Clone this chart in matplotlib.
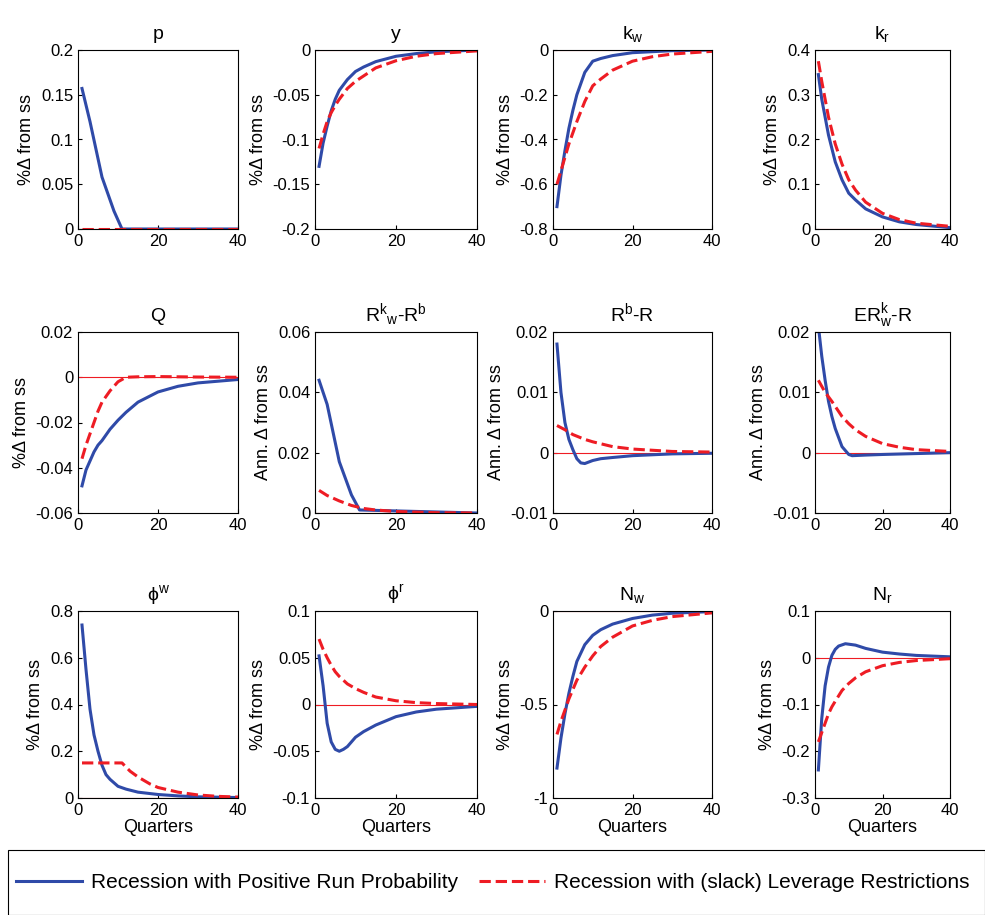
import matplotlib
matplotlib.use("Agg")
import matplotlib.pyplot as plt
from matplotlib.patches import Rectangle

plt.rcParams["font.family"] = ["Liberation Sans", "DejaVu Sans"]
plt.rcParams["mathtext.fontset"] = "custom"
plt.rcParams["mathtext.rm"] = "Liberation Sans"
plt.rcParams["mathtext.it"] = "Liberation Sans"

BLUE = "#2f4aa8"
RED = "#ee1c24"

titles = ["p", "y", r"$\mathregular{k_w}$", r"$\mathregular{k_r}$",
          "Q", r"$\mathregular{R^{k}{}_{w}\text{-}R^{b}}$", r"$\mathregular{R^{b}\text{-}R}$",
          r"$\mathregular{ER^{k}_{w}\text{-}R}$",
          r"$\mathregular{\phi^{w}}$", r"$\mathregular{\phi^{r}}$", r"$\mathregular{N_w}$", r"$\mathregular{N_r}$"]
ylabels = ["%Δ from ss"] * 5 + ["Ann. Δ from ss"] * 3 + ["%Δ from ss"] * 4
ylims = [(0, 0.2), (-0.2, 0), (-0.8, 0), (0, 0.4),
         (-0.06, 0.02), (0, 0.06), (-0.01, 0.02), (-0.01, 0.02),
         (0, 0.8), (-0.1, 0.1), (-1, 0), (-0.3, 0.1)]
yticks = [[0, 0.05, 0.1, 0.15, 0.2], [-0.2, -0.15, -0.1, -0.05, 0], [-0.8, -0.6, -0.4, -0.2, 0], [0, 0.1, 0.2, 0.3, 0.4],
          [-0.06, -0.04, -0.02, 0, 0.02], [0, 0.02, 0.04, 0.06], [-0.01, 0, 0.01, 0.02], [-0.01, 0, 0.01, 0.02],
          [0, 0.2, 0.4, 0.6, 0.8], [-0.1, -0.05, 0, 0.05, 0.1], [-1, -0.5, 0], [-0.3, -0.2, -0.1, 0, 0.1]]

# (quarters, values)
blue = [
    ([1, 3, 6, 9, 11, 40], [0.157, 0.12, 0.058, 0.02, 0.0, 0]),
    ([1, 2, 3, 4, 5, 6, 8, 10, 12, 15, 20, 25, 30, 40], [-0.13, -0.104, -0.085, -0.068, -0.055, -0.045, -0.033, -0.024, -0.019, -0.013, -0.007, -0.004, -0.002, 0]),
    ([1, 2, 3, 4, 5, 6, 8, 10, 12, 15, 20, 30, 40], [-0.7, -0.56, -0.45, -0.35, -0.27, -0.2, -0.1, -0.05, -0.038, -0.025, -0.012, -0.003, 0]),
    ([1, 2, 3, 4, 5, 6, 8, 10, 12, 15, 20, 25, 30, 40], [0.345, 0.29, 0.25, 0.21, 0.18, 0.15, 0.11, 0.08, 0.065, 0.045, 0.027, 0.016, 0.01, 0.003]),
    ([1, 2, 3, 4, 5, 6, 8, 10, 12, 15, 20, 25, 30, 40], [-0.048, -0.041, -0.037, -0.033, -0.03, -0.028, -0.023, -0.019, -0.0155, -0.011, -0.0065, -0.004, -0.0025, -0.001]),
    ([1, 3, 6, 9, 11, 40], [0.044, 0.036, 0.017, 0.006, 0.001, 0]),
    ([1, 2, 3, 4, 5, 6, 7, 8, 10, 12, 15, 20, 30, 40], [0.018, 0.01, 0.005, 0.0022, 0.0005, -0.001, -0.0017, -0.0018, -0.0013, -0.001, -0.0008, -0.0005, -0.0002, -0.0001]),
    ([1, 2, 3, 4, 5, 6, 8, 10, 11, 15, 20, 40], [0.021, 0.016, 0.012, 0.0085, 0.006, 0.004, 0.001, -0.0003, -0.0005, -0.0004, -0.0003, 0]),
    ([1, 2, 3, 4, 5, 6, 7, 8, 10, 12, 15, 20, 25, 30, 40], [0.74, 0.55, 0.38, 0.27, 0.2, 0.14, 0.1, 0.08, 0.05, 0.038, 0.025, 0.015, 0.009, 0.005, 0.002]),
    ([1, 2, 3, 4, 5, 6, 7, 8, 10, 12, 15, 20, 25, 30, 40], [0.052, 0.02, -0.02, -0.04, -0.048, -0.05, -0.048, -0.045, -0.035, -0.029, -0.022, -0.013, -0.008, -0.005, -0.002]),
    ([1, 2, 3, 4, 5, 6, 8, 10, 12, 15, 20, 25, 30, 40], [-0.84, -0.68, -0.55, -0.44, -0.35, -0.27, -0.18, -0.13, -0.1, -0.07, -0.04, -0.022, -0.012, -0.003]),
    ([1, 2, 3, 4, 5, 6, 7, 9, 12, 15, 20, 25, 30, 40], [-0.24, -0.13, -0.06, -0.02, 0.005, 0.018, 0.025, 0.03, 0.027, 0.02, 0.012, 0.008, 0.005, 0.002]),
]
red = [
    ([1, 40], [0, 0]),
    ([1, 2, 3, 4, 5, 6, 8, 10, 12, 15, 20, 25, 30, 40], [-0.11, -0.094, -0.08, -0.07, -0.062, -0.055, -0.043, -0.035, -0.029, -0.02, -0.012, -0.007, -0.004, -0.001]),
    ([1, 2, 3, 4, 5, 6, 8, 10, 12, 15, 20, 25, 30, 40], [-0.6, -0.54, -0.48, -0.42, -0.37, -0.32, -0.23, -0.16, -0.13, -0.09, -0.05, -0.03, -0.018, -0.006]),
    ([1, 2, 3, 4, 5, 6, 8, 10, 12, 15, 20, 25, 30, 40], [0.375, 0.33, 0.29, 0.25, 0.22, 0.19, 0.145, 0.11, 0.087, 0.06, 0.035, 0.021, 0.013, 0.006]),
    ([1, 2, 3, 4, 5, 6, 8, 10, 12, 15, 20, 30, 40], [-0.036, -0.03, -0.025, -0.02, -0.015, -0.011, -0.006, -0.002, 0, 0.0002, 0.0003, 0.0001, 0]),
    ([1, 3, 6, 9, 12, 15, 20, 30, 40], [0.0075, 0.0058, 0.004, 0.0025, 0.0015, 0.001, 0.0005, 0.0001, 0]),
    ([1, 3, 5, 8, 10, 15, 20, 30, 40], [0.0045, 0.0038, 0.003, 0.0022, 0.0018, 0.001, 0.0006, 0.0002, 0.0001]),
    ([1, 3, 5, 8, 10, 12, 15, 20, 25, 30, 40], [0.012, 0.01, 0.0085, 0.006, 0.0048, 0.0038, 0.0027, 0.0015, 0.0009, 0.0005, 0.0002]),
    ([1, 11, 13, 15, 18, 20, 25, 30, 35, 40], [0.15, 0.15, 0.115, 0.09, 0.06, 0.045, 0.025, 0.013, 0.007, 0.004]),
    ([1, 2, 3, 4, 5, 6, 8, 10, 12, 15, 20, 25, 30, 40], [0.07, 0.059, 0.05, 0.042, 0.035, 0.03, 0.022, 0.017, 0.013, 0.008, 0.004, 0.002, 0.001, 0]),
    ([1, 2, 3, 4, 5, 6, 8, 10, 12, 15, 20, 25, 30, 40], [-0.66, -0.59, -0.53, -0.47, -0.42, -0.37, -0.3, -0.24, -0.19, -0.14, -0.08, -0.05, -0.03, -0.01]),
    ([1, 2, 3, 4, 5, 6, 8, 10, 12, 15, 20, 25, 30, 40], [-0.18, -0.16, -0.14, -0.12, -0.105, -0.093, -0.07, -0.055, -0.043, -0.03, -0.017, -0.01, -0.006, -0.002]),
]

W, H = 985, 915
fig = plt.figure(figsize=(W / 100, H / 100), dpi=100)
lefts = [78, 315, 553, 815]
widths = [160, 162, 159, 135]
rows = [(50, 229), (332, 513), (611, 798)]

for i in range(12):
    r, c = divmod(i, 4)
    top, bot = rows[r]
    ax = fig.add_axes([lefts[c] / W, 1 - bot / H, widths[c] / W, (bot - top) / H])
    ax.axhline(0, color=RED, lw=0.8)
    ax.plot(*blue[i], color=BLUE, lw=2.2)
    ax.plot(*red[i], color=RED, lw=2.2, ls="--")
    ax.set_xlim(0, 40)
    ax.set_ylim(*ylims[i])
    ax.set_xticks([0, 20, 40])
    ax.set_yticks(yticks[i])
    ax.set_yticklabels([f"{v:g}" for v in yticks[i]])
    ax.tick_params(labelsize=12, direction="in", length=3)
    ax.set_title(titles[i], fontsize=14, pad=8)
    ax.set_ylabel(ylabels[i], fontsize=13)
    if r == 2:
        ax.set_xlabel("Quarters", fontsize=13, labelpad=1)

fig.add_artist(Rectangle((8 / W, 0), 977 / W, 65 / H, transform=fig.transFigure,
                         fill=False, ec="black", lw=0.8))
h1, = plt.plot([], [], color=BLUE, lw=2.2)
h2, = plt.plot([], [], color=RED, lw=2.2, ls="--")
fig.legend([h1, h2], ["Recession with Positive Run Probability",
                      "Recession with (slack) Leverage Restrictions"],
           loc="center", bbox_to_anchor=(0.5, 32 / H), ncol=2, frameon=False,
           fontsize=15, handlelength=3.2, handletextpad=0.4, columnspacing=1.0)

fig.savefig("out.png", dpi=100)
